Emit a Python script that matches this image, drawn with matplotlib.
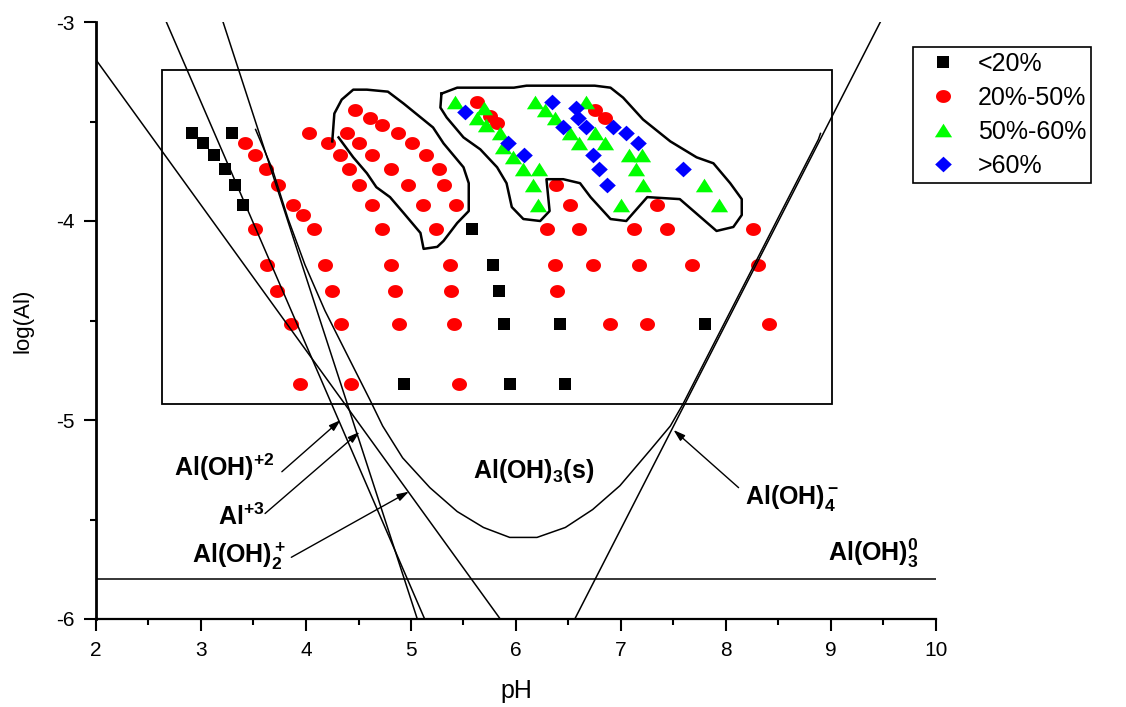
import numpy as np
import matplotlib
matplotlib.use("Agg")
import matplotlib.pyplot as plt
from matplotlib.path import Path
from matplotlib.patches import Rectangle
from matplotlib.lines import Line2D

plt.rcParams['font.family'] = ['Liberation Sans', 'DejaVu Sans']
plt.rcParams['axes.unicode_minus'] = False
plt.rcParams['mathtext.fontset'] = 'custom'
plt.rcParams['mathtext.bf'] = 'Liberation Sans:bold'
plt.rcParams['mathtext.rm'] = 'Liberation Sans'
plt.rcParams['mathtext.default'] = 'bf'

# ---- data: removal efficiency groups (pH, log[Al]) ----
lt20_ph = [2.91, 3.02, 3.12, 3.23, 3.32, 3.40, 3.30, 5.58, 5.78, 5.84, 5.89, 6.42, 7.80, 4.93, 5.94, 6.47]
lt20_log = [-3.56, -3.61, -3.67, -3.74, -3.82, -3.92, -3.56, -4.04, -4.22, -4.35, -4.52, -4.52, -4.52, -4.82, -4.82, -4.82]

mid_ph = [5.63, 5.75, 5.82, 6.75, 6.85,
          4.47, 4.61, 4.72,
          4.03, 4.39, 4.88,
          3.42, 4.21, 4.50, 5.01,
          3.51, 4.32, 4.63, 5.14,
          3.62, 4.41, 4.81, 5.27,
          3.73, 4.50, 4.97, 5.31, 6.38,
          3.88, 4.63, 5.11, 5.43, 6.51, 7.34,
          3.97,
          3.51, 4.08, 4.72, 5.24, 6.30, 6.60, 7.12, 7.44, 8.26,
          3.63, 4.18, 4.81, 5.37, 6.37, 6.73, 7.17, 7.68, 8.30,
          3.72, 4.25, 4.85, 5.38, 6.39,
          3.86, 4.33, 4.89, 5.41, 6.90, 7.25, 8.41,
          3.94, 4.43, 5.46]
mid_log = [-3.40, -3.47, -3.51, -3.44, -3.48,
           -3.44, -3.48, -3.52,
           -3.56, -3.56, -3.56,
           -3.61, -3.61, -3.61, -3.61,
           -3.67, -3.67, -3.67, -3.67,
           -3.74, -3.74, -3.74, -3.74,
           -3.82, -3.82, -3.82, -3.82, -3.82,
           -3.92, -3.92, -3.92, -3.92, -3.92, -3.92,
           -3.97,
           -4.04, -4.04, -4.04, -4.04, -4.04, -4.04, -4.04, -4.04, -4.04,
           -4.22, -4.22, -4.22, -4.22, -4.22, -4.22, -4.22, -4.22, -4.22,
           -4.35, -4.35, -4.35, -4.35, -4.35,
           -4.52, -4.52, -4.52, -4.52, -4.52, -4.52, -4.52,
           -4.82, -4.82, -4.82]

high_ph = [5.42, 5.70, 5.63, 5.71, 5.85, 5.88, 5.97, 6.07, 6.22, 6.16, 6.21,
           6.18, 6.28, 6.37, 6.51, 6.60, 6.75, 6.85, 6.67, 7.08, 7.20, 7.14,
           7.21, 7.00, 7.79, 7.93]
high_log = [-3.40, -3.43, -3.48, -3.52, -3.56, -3.63, -3.68, -3.74, -3.74, -3.82, -3.92,
            -3.40, -3.44, -3.48, -3.56, -3.61, -3.56, -3.61, -3.40, -3.67, -3.67, -3.74,
            -3.82, -3.92, -3.82, -3.92]

top_ph = [5.51, 6.34, 5.92, 6.08, 6.57, 6.59, 6.45, 6.67, 6.92, 7.05, 7.16, 6.73, 6.79, 6.87, 7.59]
top_log = [-3.45, -3.40, -3.61, -3.67, -3.43, -3.48, -3.53, -3.53, -3.53, -3.56, -3.61, -3.67, -3.74, -3.82, -3.74]

# ---- solubility diagram lines ----
al3_ph, al3_log = [3.21, 5.06], [-3.0, -6.0]
aloh_ph, aloh_log = [2.67, 5.13], [-3.0, -6.0]
aloh2_ph, aloh2_log = [2.0, 5.85], [-3.19, -6.0]
aloh4_ph, aloh4_log = [6.56, 9.47], [-6.0, -3.0]
aloh3_level = -5.8

total_ph = [3.52, 3.68, 3.83, 3.99, 4.18, 4.39, 4.61, 4.73, 4.92, 5.18, 5.44, 5.69,
            5.94, 6.20, 6.47, 6.73, 6.99, 7.28, 7.47, 7.59, 7.90, 8.24, 8.53, 8.88, 8.90]
total_log = [-3.54, -3.74, -3.99, -4.22, -4.45, -4.67, -4.90, -5.03, -5.19, -5.34, -5.46, -5.54,
             -5.59, -5.59, -5.54, -5.45, -5.33, -5.15, -5.03, -4.92, -4.60, -4.25, -3.95, -3.59, -3.56]

# ---- hand-drawn region outlines ----
blob1_ph = [4.25, 4.27, 4.34, 4.45, 4.58, 4.78, 4.93, 5.07, 5.21, 5.31, 5.50, 5.55, 5.55,
            5.44, 5.31, 5.25, 5.12, 5.09, 4.93, 4.80, 4.67, 4.58, 4.45, 4.31]
blob1_log = [-3.60, -3.46, -3.39, -3.34, -3.34, -3.35, -3.41, -3.47, -3.53, -3.61, -3.73, -3.81, -3.95,
             -4.01, -4.10, -4.13, -4.14, -4.06, -3.96, -3.88, -3.83, -3.76, -3.68, -3.58]

blob2_ph = [5.29, 5.28, 5.34, 5.50, 5.66, 5.82, 5.91, 5.96, 6.07, 6.23, 6.32, 6.29, 6.45, 6.61,
            6.71, 6.90, 7.05, 7.25, 7.56, 7.91, 8.07, 8.15, 8.15, 8.04, 7.88, 7.72, 7.47, 7.21,
            7.02, 6.90, 6.75, 6.10, 5.98, 5.78, 5.59, 5.44, 5.29]
blob2_log = [-3.36, -3.43, -3.48, -3.58, -3.64, -3.73, -3.81, -3.93, -3.99, -4.00, -3.95, -3.79, -3.79, -3.81,
             -3.88, -3.99, -4.00, -3.88, -3.89, -4.05, -4.03, -3.97, -3.89, -3.81, -3.71, -3.68, -3.60, -3.49,
             -3.38, -3.33, -3.32, -3.32, -3.33, -3.33, -3.33, -3.33, -3.36]

box_ph = [2.63, 9.01]
box_log = [-4.92, -3.24]

labels = ['<20%', '20%-50%', '50%-60%', '>60%']


def shape(verts):
    verts = list(verts) + [verts[0]]
    codes = [Path.MOVETO] + [Path.LINETO] * (len(verts) - 2) + [Path.CLOSEPOLY]
    return Path(verts, codes)


t = np.linspace(0, 2 * np.pi, 40)
ellipse = Path(np.column_stack([np.cos(t), 0.86 * np.sin(t)]))
triangle = shape([(-1, -0.79), (1, -0.79), (0, 0.79)])
diamond = shape([(0, 0.94), (1, 0), (0, -0.94), (-1, 0)])

styles = [
    dict(marker='s', color='black', markersize=9.2),
    dict(marker=ellipse, color='#ff0000', markersize=10.8),
    dict(marker=triangle, color='#00ff00', markersize=12.4),
    dict(marker=diamond, color='#0000ff', markersize=12.0),
]

fig = plt.figure(figsize=(11.26, 7.07), dpi=100)
ax = fig.add_axes([96 / 1126, 88 / 707, 840 / 1126, 597 / 707])

series = [(lt20_ph, lt20_log), (mid_ph, mid_log), (high_ph, high_log), (top_ph, top_log)]
for (xs, ys), st in zip(series, styles):
    ax.plot(xs, ys, linestyle='none', markeredgewidth=0, **st)

lw = 1.1
ax.plot(al3_ph, al3_log, color='black', lw=lw)
ax.plot(aloh_ph, aloh_log, color='black', lw=lw)
ax.plot(aloh2_ph, aloh2_log, color='black', lw=lw)
ax.plot(aloh4_ph, aloh4_log, color='black', lw=lw)
ax.axhline(aloh3_level, color='black', lw=lw)
ax.plot(total_ph, total_log, color='black', lw=lw)

ax.plot(blob1_ph, blob1_log, color='black', lw=1.8)
ax.plot(blob2_ph, blob2_log, color='black', lw=1.8)

ax.add_patch(Rectangle((box_ph[0], box_log[0]), box_ph[1] - box_ph[0], box_log[1] - box_log[0],
                       fill=False, edgecolor='black', lw=1.3))

# species labels
lab_kw = dict(fontsize=18, fontweight='bold', ha='left', va='baseline')
arrow = dict(arrowstyle='-|>,head_length=0.7,head_width=0.22', color='black', lw=1.0,
             shrinkA=0, shrinkB=0)
ax.text(2.74, -5.28, r'Al(OH)$^{+2}$', **lab_kw)
ax.text(3.16, -5.53, r'Al$^{+3}$', **lab_kw)
ax.text(2.91, -5.72, r'Al(OH)$_2^+$', **lab_kw)
ax.text(5.59, -5.29, r'Al(OH)$_3$(s)', **lab_kw)
ax.text(8.18, -5.42, r'Al(OH)$_4^-$', **lab_kw)
ax.text(8.97, -5.71, r'Al(OH)$_3^0$', **lab_kw)
ax.annotate('', xy=(4.33, -5.00), xytext=(3.77, -5.26), arrowprops=arrow)
ax.annotate('', xy=(4.51, -5.06), xytext=(3.61, -5.47), arrowprops=arrow)
ax.annotate('', xy=(4.98, -5.36), xytext=(3.86, -5.69), arrowprops=arrow)
ax.annotate('', xy=(7.50, -5.05), xytext=(8.12, -5.34), arrowprops=arrow)

ax.set_xlim(2, 10)
ax.set_ylim(-6, -3)
ax.set_xticks(np.arange(2, 11, 1))
ax.set_xticks(np.arange(2.5, 10, 1), minor=True)
ax.set_yticks([-6, -5, -4, -3])
ax.set_yticks([-5.5, -4.5, -3.5], minor=True)
ax.set_yticklabels(['-6', '-5', '-4', '-3'])
ax.tick_params(which='major', length=8.5, width=1.5, labelsize=15, pad=7)
ax.tick_params(which='minor', length=4.5, width=1.5)
for side in ['top', 'right']:
    ax.spines[side].set_visible(False)
ax.spines['left'].set_linewidth(2.0)
ax.spines['bottom'].set_linewidth(1.6)

ax.set_xlabel('pH', fontsize=18, labelpad=14)
ax.set_ylabel('log(Al)', fontsize=16, labelpad=16)

handles = [Line2D([], [], linestyle='none', markeredgewidth=0, **st) for st in styles]
leg = ax.legend(handles, labels, loc='upper left', bbox_to_anchor=(913 / 1126, 1 - 47 / 707),
                bbox_transform=fig.transFigure, fontsize=18, frameon=True, fancybox=False,
                edgecolor='black', framealpha=1, borderaxespad=0, handlelength=2.0,
                handletextpad=0.4, labelspacing=0.4, borderpad=0.2, numpoints=1)
leg.get_frame().set_linewidth(1.2)

fig.savefig('out.png', dpi=100)
